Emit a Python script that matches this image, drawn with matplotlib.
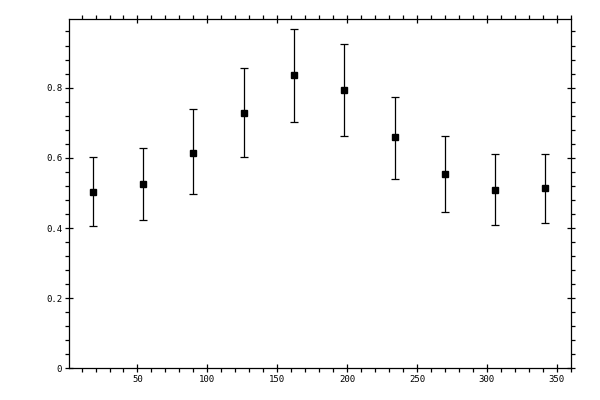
import matplotlib
matplotlib.use("Agg")
import matplotlib.pyplot as plt
from matplotlib.ticker import MultipleLocator, FuncFormatter

# data
x = [18, 54, 90, 126, 162, 198, 234, 270, 306, 342]
y = [0.503, 0.526, 0.615, 0.729, 0.835, 0.792, 0.658, 0.555, 0.509, 0.515]
y_low = [0.406, 0.423, 0.496, 0.603, 0.703, 0.663, 0.541, 0.446, 0.409, 0.415]
y_high = [0.603, 0.629, 0.738, 0.857, 0.968, 0.923, 0.772, 0.663, 0.612, 0.612]

err_lo = [a - b for a, b in zip(y, y_low)]
err_hi = [b - a for a, b in zip(y, y_high)]

fig = plt.figure(figsize=(6, 4), dpi=100)
ax = fig.add_axes([0.115, 0.079, 0.836, 0.873])

ax.errorbar(x, y, yerr=[err_lo, err_hi], fmt='s', color='black',
            markersize=5, elinewidth=0.9, capsize=2.9, capthick=0.9)

ax.set_xlim(1, 360)
ax.set_ylim(0, 0.995)
ax.xaxis.set_major_locator(MultipleLocator(50))
ax.xaxis.set_minor_locator(MultipleLocator(10))
ax.yaxis.set_major_locator(MultipleLocator(0.2))
ax.yaxis.set_minor_locator(MultipleLocator(0.04))
ax.yaxis.set_major_formatter(FuncFormatter(lambda v, p: '%g' % round(v, 2)))

for s in ax.spines.values():
    s.set_linewidth(0.9)

ax.tick_params(which='major', direction='inout', length=6, width=0.9,
               top=True, right=True, labelsize=6.5, pad=2)
ax.tick_params(which='minor', direction='out', length=3, width=0.9,
               top=True, right=True)
for lbl in ax.get_xticklabels() + ax.get_yticklabels():
    lbl.set_family('DejaVu Sans Mono')

fig.savefig('out.png', dpi=100)
